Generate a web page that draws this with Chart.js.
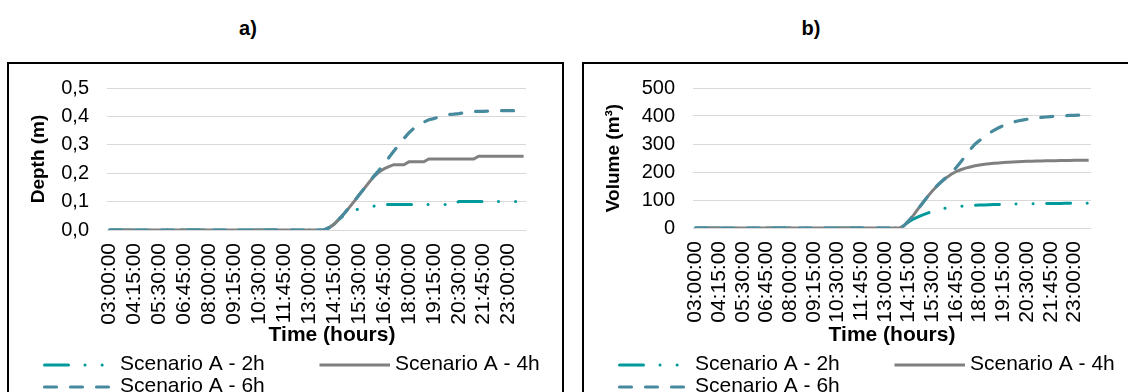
<!DOCTYPE html>
<html>
<head>
<meta charset="utf-8">
<script src="https://cdn.jsdelivr.net/npm/chart.js@4.4.1/dist/chart.umd.min.js"></script>
<style>
    body { margin: 0; background: #fff; width: 1128px; height: 392px; overflow: hidden; position: relative; font-family: "Liberation Sans", Arial, sans-serif; }
    .panel-title { position: absolute; top: 17px; font-weight: bold; font-size: 20px; width: 60px; text-align: center; }
    .box { position: absolute; top: 62px; height: 340px; border: 2px solid #000; box-sizing: border-box; }
    canvas { position: absolute; }
</style>
</head>
<body>
<div class="panel-title" style="left: 218px;">a)</div>
<div class="panel-title" style="left: 781px;">b)</div>
<div class="box" style="left: 7px; width: 557px;"></div>
<div class="box" style="left: 582px; width: 560px;"></div>
<canvas id="depthChart" width="553" height="334" style="left: 9px; top: 58px;"></canvas>
<canvas id="volumeChart" width="543" height="334" style="left: 584px; top: 58px;"></canvas>
<script>
// Kategori waktu (interval 15 menit)
const timeLabels = [
    '03:00:00', '03:15:00', '03:30:00', '03:45:00', '04:00:00', '04:15:00', '04:30:00', '04:45:00',
    '05:00:00', '05:15:00', '05:30:00', '05:45:00', '06:00:00', '06:15:00', '06:30:00', '06:45:00',
    '07:00:00', '07:15:00', '07:30:00', '07:45:00', '08:00:00', '08:15:00', '08:30:00', '08:45:00',
    '09:00:00', '09:15:00', '09:30:00', '09:45:00', '10:00:00', '10:15:00', '10:30:00', '10:45:00',
    '11:00:00', '11:15:00', '11:30:00', '11:45:00', '12:00:00', '12:15:00', '12:30:00', '12:45:00',
    '13:00:00', '13:15:00', '13:30:00', '13:45:00', '14:00:00', '14:15:00', '14:30:00', '14:45:00',
    '15:00:00', '15:15:00', '15:30:00', '15:45:00', '16:00:00', '16:15:00', '16:30:00', '16:45:00',
    '17:00:00', '17:15:00', '17:30:00', '17:45:00', '18:00:00', '18:15:00', '18:30:00', '18:45:00',
    '19:00:00', '19:15:00', '19:30:00', '19:45:00', '20:00:00', '20:15:00', '20:30:00', '20:45:00',
    '21:00:00', '21:15:00', '21:30:00', '21:45:00', '22:00:00', '22:15:00', '22:30:00', '22:45:00',
    '23:00:00', '23:15:00', '23:30:00', '23:45:00'
];

const seriesNames = ['Scenario A - 2h', 'Scenario A - 4h', 'Scenario A - 6h'];
const xTitle = 'Time (hours)';

// a) Depth (m)
const depth2h = [
    0, 0, 0, 0, 0, 0, 0, 0, 0, 0, 0,
    0, 0, 0, 0, 0, 0, 0, 0, 0, 0, 0,
    0, 0, 0, 0, 0, 0, 0, 0, 0, 0, 0,
    0, 0, 0, 0, 0, 0, 0, 0, 0, 0, 0,
    0.008, 0.02, 0.038, 0.052, 0.062, 0.069, 0.074, 0.078, 0.081, 0.084,
    0.086, 0.088, 0.09, 0.09, 0.09, 0.09, 0.09, 0.09, 0.09, 0.09,
    0.09, 0.09, 0.09, 0.09, 0.09, 0.09, 0.1, 0.1, 0.1, 0.1,
    0.1, 0.1, 0.1, 0.1, 0.1, 0.1, 0.1, 0.1, 0.1, 0.1
];
const depth4h = [
    0, 0, 0, 0, 0, 0, 0, 0, 0, 0, 0,
    0, 0, 0, 0, 0, 0, 0, 0, 0, 0, 0,
    0, 0, 0, 0, 0, 0, 0, 0, 0, 0, 0,
    0, 0, 0, 0, 0, 0, 0, 0, 0, 0, 0,
    0.008, 0.02, 0.038, 0.057, 0.078, 0.1, 0.123, 0.145, 0.167, 0.188,
    0.204, 0.215, 0.223, 0.23, 0.23, 0.23, 0.24, 0.24, 0.24, 0.24,
    0.25, 0.25, 0.25, 0.25, 0.25, 0.25, 0.25, 0.25, 0.25, 0.25,
    0.26, 0.26, 0.26, 0.26, 0.26, 0.26, 0.26, 0.26, 0.26, 0.26
];
const depth6h = [
    0, 0, 0, 0, 0, 0, 0, 0, 0, 0, 0,
    0, 0, 0, 0, 0, 0, 0, 0, 0, 0, 0,
    0, 0, 0, 0, 0, 0, 0, 0, 0, 0, 0,
    0, 0, 0, 0, 0, 0, 0, 0, 0, 0, 0,
    0.008, 0.02, 0.038, 0.057, 0.078, 0.1, 0.123, 0.145, 0.167, 0.19,
    0.21, 0.232, 0.255, 0.278, 0.3, 0.322, 0.342, 0.358, 0.37, 0.38,
    0.388, 0.392, 0.398, 0.403, 0.407, 0.408, 0.41, 0.413, 0.416, 0.417,
    0.418, 0.418, 0.419, 0.42, 0.42, 0.42, 0.42, 0.42, 0.42, 0.42
];

// b) Volume (m3)
const volume2h = [
    0, 0, 0, 0, 0, 0, 0, 0, 0, 0, 0,
    0, 0, 0, 0, 0, 0, 0, 0, 0, 0, 0,
    0, 0, 0, 0, 0, 0, 0, 0, 0, 0, 0,
    0, 0, 0, 0, 0, 0, 0, 0, 0, 0, 0,
    8, 22, 32, 40, 47, 53, 59, 64, 68, 71.5,
    74, 76, 77.5, 79, 80, 81, 81.8, 82.5, 83, 83.5,
    84, 84.5, 85, 85.3, 85.6, 86, 86.3, 86.6, 86.9, 87.1,
    87.3, 87.5, 87.7, 87.9, 88, 88.1, 88.2, 88.3, 88.4, 88.5
];
const volume4h = [
    0, 0, 0, 0, 0, 0, 0, 0, 0, 0, 0,
    0, 0, 0, 0, 0, 0, 0, 0, 0, 0, 0,
    0, 0, 0, 0, 0, 0, 0, 0, 0, 0, 0,
    0, 0, 0, 0, 0, 0, 0, 0, 0, 0, 0,
    8, 25, 45, 68, 90, 112, 132, 150, 166, 180,
    192, 201, 208, 214, 218, 222, 225, 227.5, 229.5, 231,
    232.5, 234, 235, 236, 236.8, 237.5, 238, 238.5, 239, 239.4,
    239.8, 240.2, 240.5, 240.8, 241.1, 241.4, 241.7, 242, 242.2, 242.4
];
const volume6h = [
    0, 0, 0, 0, 0, 0, 0, 0, 0, 0, 0,
    0, 0, 0, 0, 0, 0, 0, 0, 0, 0, 0,
    0, 0, 0, 0, 0, 0, 0, 0, 0, 0, 0,
    0, 0, 0, 0, 0, 0, 0, 0, 0, 0, 0,
    8, 25, 45, 68, 90, 112, 132, 151, 167, 182,
    197, 215, 236, 257, 280, 299, 313, 326, 338, 349,
    358, 366, 373, 378, 382, 385.5, 388.5, 391, 393, 395,
    396.5, 398, 399, 400, 401, 402, 402.5, 403, 403.5, 404
];

const depthTicks = [0, 0.1, 0.2, 0.3, 0.4, 0.5];
const volumeTicks = [0, 100, 200, 300, 400, 500];

const FONT = '"Liberation Sans", Arial, sans-serif';

// Legenda gaya Excel (2 kolom) + judul sumbu X
const excelLegend = {
    id: 'excelLegend',
    afterDraw(chart, args, opts) {
        const ctx = chart.ctx;
        const slots = [[34, 307], [309, 307], [34, 329]];
        chart.data.datasets.forEach((ds, i) => {
            const [x, y] = slots[i];
            ctx.save();
            ctx.strokeStyle = ds.borderColor;
            ctx.lineWidth = ds.borderWidth;
            ctx.setLineDash(ds.borderDash || []);
            ctx.lineCap = ds.borderCapStyle || 'butt';
            ctx.beginPath();
            ctx.moveTo(x + 1.5, y);
            ctx.lineTo(x + 72, y);
            ctx.stroke();
            ctx.setLineDash([]);
            ctx.fillStyle = '#000';
            ctx.font = '21px ' + FONT;
            ctx.textBaseline = 'middle';
            ctx.fillText(ds.label, x + 77, y - 1);
            ctx.restore();
        });
        ctx.save();
        ctx.fillStyle = '#000';
        ctx.font = 'bold 21px ' + FONT;
        ctx.textAlign = 'center';
        ctx.textBaseline = 'middle';
        ctx.fillText(xTitle, opts.titleX, opts.titleY);
        ctx.restore();
    }
};

function makeDatasets(s2, s4, s6) {
    return [
        { label: seriesNames[0], data: s2, borderColor: '#009a9a', borderWidth: 3,
          borderDash: [24, 16.5, 0.1, 17, 0.1, 13.5], borderCapStyle: 'round', order: 2 },
        { label: seriesNames[1], data: s4, borderColor: '#808080', borderWidth: 3, order: 1 },
        { label: seriesNames[2], data: s6, borderColor: '#478a9d', borderWidth: 3.2,
          borderDash: [12, 14], borderCapStyle: 'round', order: 0 }
    ];
}

function makeChart(id, datasets, yTicks, yTitle, yWidth, padRight, xHeight, titleX, fmt) {
    return new Chart(document.getElementById(id), {
        type: 'line',
        data: { labels: timeLabels, datasets: datasets },
        options: {
            responsive: false,
            animation: false,
            devicePixelRatio: 1,
            layout: { padding: { top: 16, right: padRight, bottom: 42, left: 0 } },
            elements: { point: { radius: 0 }, line: { tension: 0, fill: false } },
            plugins: {
                legend: { display: false },
                tooltip: { enabled: false },
                excelLegend: { titleX: titleX, titleY: 277 }
            },
            scales: {
                x: {
                    type: 'category',
                    offset: true,
                    grid: { display: false, drawTicks: false },
                    border: { display: false },
                    ticks: {
                        autoSkip: false, maxRotation: 90, minRotation: 90, padding: 13,
                        color: '#000', font: { family: FONT, size: 21 },
                        callback: function (v, i) { return i % 5 === 0 ? this.getLabelForValue(v) : ''; }
                    },
                    afterFit: s => { s.height = xHeight; }
                },
                y: {
                    min: yTicks[0],
                    max: yTicks[yTicks.length - 1],
                    grid: { color: '#d9d9d9', lineWidth: 1, drawTicks: false },
                    border: { display: false },
                    ticks: { stepSize: yTicks[1] - yTicks[0], autoSkip: false, padding: 18, color: '#000',
                             font: { family: FONT, size: 20 }, callback: fmt },
                    title: { display: true, text: yTitle, color: '#000',
                             font: { family: FONT, size: 19, weight: 'bold' }, padding: { top: 18, bottom: 0 } },
                    afterFit: s => { s.width = yWidth; }
                }
            }
        },
        plugins: [excelLegend]
    });
}

makeChart('depthChart', makeDatasets(depth2h, depth4h, depth6h), depthTicks, 'Depth (m)', 98, 33, 120, 323,
    v => v.toFixed(1).replace('.', ','));
makeChart('volumeChart', makeDatasets(volume2h, volume4h, volume6h), volumeTicks, 'Volume (m\u00b3)', 109, 21, 122, 308,
    v => String(v));
</script>
</body>
</html>
